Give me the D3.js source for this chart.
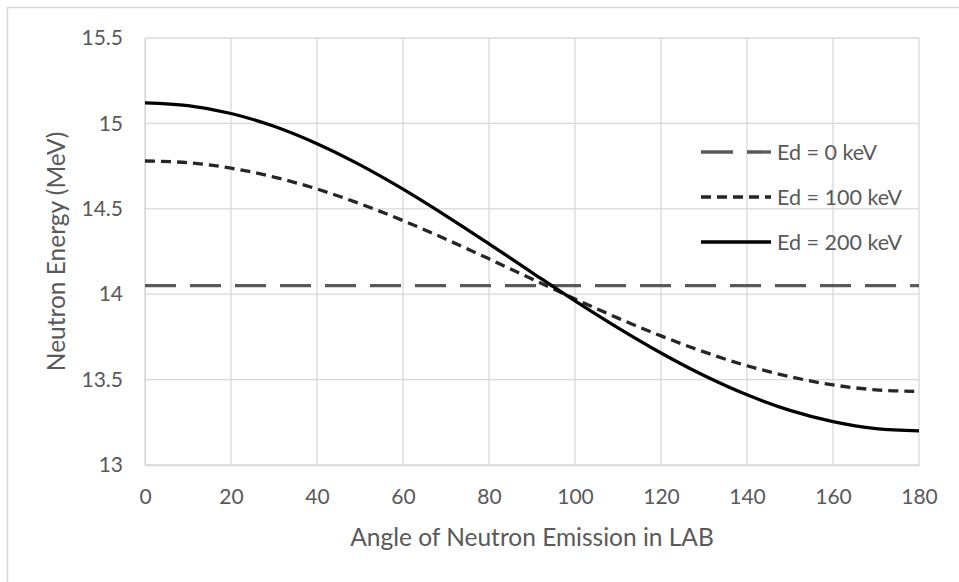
<!DOCTYPE html>
<html>
<head>
<meta charset="utf-8">
<script src="https://cdn.jsdelivr.net/npm/d3@7"></script>
<style>
  body { margin: 0; background: #fff; }
  svg { display: block; font-family: Lato, "Liberation Sans", sans-serif; }
</style>
</head>
<body>
<svg id="chart" width="959" height="582"></svg>
<script>
// angle in LAB (degrees)
const angles = [0, 10, 20, 30, 40, 50, 60, 70, 80, 90, 100, 110, 120, 130, 140, 150, 160, 170, 180]
// neutron energy (MeV)
const ed0 = [14.05, 14.05, 14.05, 14.05, 14.05, 14.05, 14.05, 14.05, 14.05, 14.05, 14.05, 14.05, 14.05, 14.05, 14.05, 14.05, 14.05, 14.05, 14.05]
const ed100 = [14.780, 14.770, 14.738, 14.686, 14.616, 14.530, 14.431, 14.322, 14.207, 14.089, 13.972, 13.860, 13.756, 13.662, 13.581, 13.517, 13.469, 13.440, 13.430]
const ed200 = [15.120, 15.104, 15.058, 14.983, 14.881, 14.757, 14.615, 14.459, 14.295, 14.127, 13.961, 13.803, 13.656, 13.524, 13.411, 13.320, 13.254, 13.213, 13.200]

const xTicks = [0, 20, 40, 60, 80, 100, 120, 140, 160, 180]
const yTicks = [13, 13.5, 14, 14.5, 15, 15.5]

const seriesNames = ['Ed = 0 keV', 'Ed = 100 keV', 'Ed = 200 keV']

const svg = d3.select('#chart')
const margin = { top: 38, right: 40, bottom: 117, left: 145 }
const width = 959, height = 582
const textColor = '#595959'
const gridColor = '#d9d9d9'

// outer chart frame
svg.append('rect')
  .attr('x', 7.5).attr('y', 7.5)
  .attr('width', 980).attr('height', 600)
  .attr('fill', 'none')
  .attr('stroke', gridColor)
  .attr('stroke-width', 1.5)

const x = d3.scaleLinear().domain([0, 180]).range([margin.left, width - margin.right])
const y = d3.scaleLinear().domain([13, 15.5]).range([height - margin.bottom, margin.top])

// grid
const grid = svg.append('g')
grid.selectAll('.gy').data(yTicks).join('line')
  .attr('x1', x(0)).attr('x2', x(180))
  .attr('y1', d => y(d)).attr('y2', d => y(d))
  .attr('stroke', gridColor).attr('stroke-width', 1.3)
grid.selectAll('.gx').data(xTicks).join('line')
  .attr('x1', d => x(d)).attr('x2', d => x(d))
  .attr('y1', y(13)).attr('y2', y(15.5))
  .attr('stroke', gridColor).attr('stroke-width', 1.3)

// axes
const xAxis = d3.axisBottom(x).tickValues(xTicks).tickSize(0).tickPadding(24).tickFormat(d3.format('d'))
const yAxis = d3.axisLeft(y).tickValues(yTicks).tickSize(0).tickPadding(22).tickFormat(d => d)

const gx = svg.append('g').attr('transform', `translate(0,${y(13)})`).call(xAxis)
const gy = svg.append('g').attr('transform', `translate(${x(0)},0)`).call(yAxis)
;[gx, gy].forEach(g => {
  g.select('.domain').attr('stroke', gridColor).attr('stroke-width', 1.3)
  g.selectAll('text').attr('fill', textColor).style('font-size', '21px').style('font-family', 'Lato, sans-serif')
})

// axis titles
svg.append('text')
  .attr('x', x(90)).attr('y', 546)
  .attr('text-anchor', 'middle')
  .attr('fill', textColor)
  .style('font-size', '24.5px')
  .text('Angle of Neutron Emission in LAB')

svg.append('text')
  .attr('transform', `translate(65,${(y(13) + y(15.5)) / 2}) rotate(-90)`)
  .attr('text-anchor', 'middle')
  .attr('fill', textColor)
  .style('font-size', '24.5px')
  .text('Neutron Energy (MeV)')

// series
const styles = [
  { color: '#595959', dash: '31,14' },
  { color: '#262626', dash: '10,6' },
  { color: '#000000', dash: null }
]
const seriesData = [ed0, ed100, ed200]

const line = d3.line()
  .x((d, i) => x(angles[i]))
  .y(d => y(d))
  .curve(d3.curveCatmullRom)

seriesData.forEach((vals, k) => {
  svg.append('path')
    .datum(vals)
    .attr('fill', 'none')
    .attr('stroke', styles[k].color)
    .attr('stroke-width', 3.3)
    .attr('stroke-dasharray', styles[k].dash)
    .attr('d', line)
})

// legend
const legend = svg.append('g')
const legendY = [152, 197, 242]
seriesNames.forEach((name, k) => {
  legend.append('line')
    .attr('x1', 701).attr('x2', 771)
    .attr('y1', legendY[k]).attr('y2', legendY[k])
    .attr('stroke', styles[k].color)
    .attr('stroke-width', 3.3)
    .attr('stroke-dasharray', k === 0 ? '32,14' : styles[k].dash)
  legend.append('text')
    .attr('x', 777).attr('y', legendY[k])
    .attr('dy', '0.35em')
    .attr('fill', textColor)
    .style('font-size', '21.5px')
    .text(name)
})
</script>
</body>
</html>
